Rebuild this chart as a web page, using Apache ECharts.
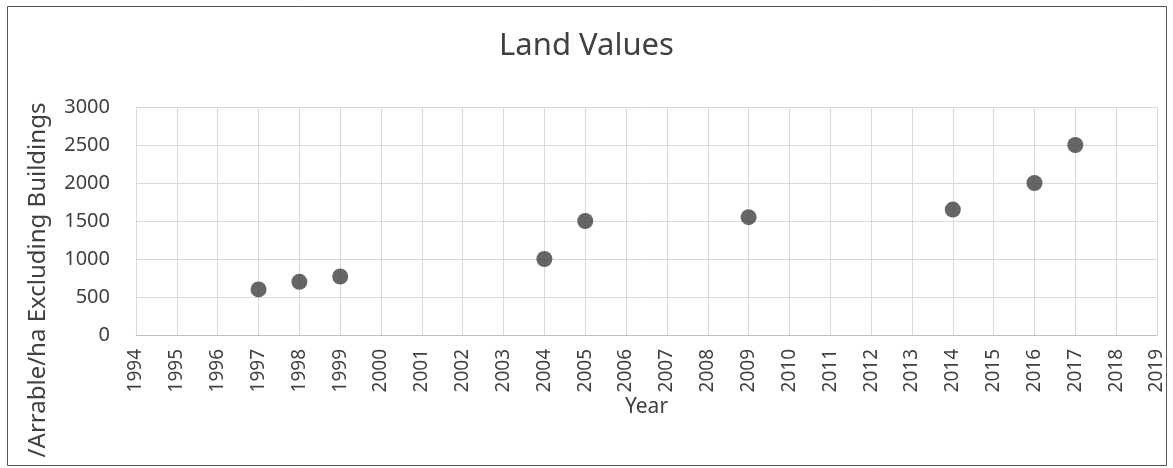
<!DOCTYPE html>
<html><head><meta charset="utf-8">
<script src="https://cdn.jsdelivr.net/npm/echarts@6/dist/echarts.min.js"></script>
<style>html,body{margin:0;padding:0;background:#fff}#c{width:1173px;height:468px}</style>
</head><body><div id="c"></div>
<script>
const years = [1997, 1998, 1999, 2004, 2005, 2009, 2014, 2016, 2017];
const values = [600, 700, 770, 1000, 1500, 1550, 1650, 2000, 2500];
const title = 'Land Values';
const xName = 'Year';
const yName = '/Arrable/ha Excluding Buildings';

const chart = echarts.init(document.getElementById('c'));
const font = 'Noto Sans, Open Sans, sans-serif';
chart.setOption({
  animation: false,
  backgroundColor: '#fff',
  title: { text: title, left: 'center', top: 26, textStyle: { fontFamily: font, fontSize: 31, fontWeight: 'normal', color: '#404040' } },
  graphic: [{ type: 'rect', shape: { x: 7.5, y: 6.5, width: 1159, height: 459 }, style: { fill: 'none', stroke: '#555', lineWidth: 1 }, silent: true }],
  grid: { left: 136, right: 16, top: 107, bottom: 133 },
  xAxis: {
    type: 'value', min: 1994, max: 2019, interval: 1,
    name: xName, nameLocation: 'middle', nameGap: 58,
    nameTextStyle: { fontFamily: font, fontSize: 21, color: '#404040' },
    axisLine: { show: true, lineStyle: { color: '#bfbfbf' } },
    axisTick: { show: false },
    axisLabel: { rotate: 90, margin: 14, fontFamily: font, fontSize: 19, color: '#404040', formatter: v => String(v) },
    splitLine: { show: true, lineStyle: { color: '#d9d9d9', width: 1 } }
  },
  yAxis: {
    type: 'value', min: 0, max: 3000, interval: 500,
    name: yName, nameLocation: 'middle', nameGap: 86, nameRotate: 90,
    nameTextStyle: { fontFamily: font, fontSize: 24, color: '#404040', padding: [0, 118, 0, 0] },
    axisLine: { show: true, lineStyle: { color: '#d9d9d9' } },
    axisTick: { show: false },
    axisLabel: { margin: 26, fontFamily: font, fontSize: 20, color: '#404040', formatter: v => String(v) },
    splitLine: { show: true, lineStyle: { color: '#d9d9d9', width: 1 } }
  },
  series: [{
    type: 'scatter',
    data: years.map((y, i) => [y, values[i]]),
    symbolSize: 16,
    itemStyle: { color: '#404040' }
  }]
});
</script></body></html>
